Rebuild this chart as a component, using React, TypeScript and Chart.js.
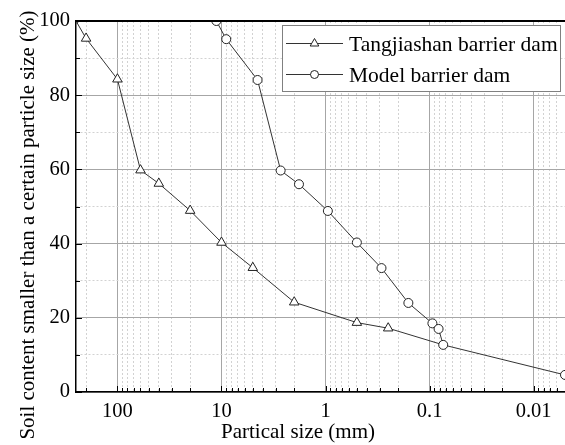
import React, { useEffect, useRef } from 'react';
import { Chart, registerables } from 'chart.js';

Chart.register(...registerables);

// ---- data ----
const seriesNames = ['Tangjiashan barrier dam', 'Model barrier dam'];
const tangSize = [250, 200, 100, 60, 40, 20, 10, 5, 2, 0.5, 0.25, 0.074];
const tangPct = [100, 95.3, 84.3, 59.8, 56.2, 48.9, 40.3, 33.5, 24.2, 18.7, 17.2, 12.7];
const modelSize = [11.2, 9, 4.5, 2.7, 1.8, 0.95, 0.5, 0.29, 0.16, 0.094, 0.082, 0.074, 0.005];
const modelPct = [100, 95.1, 84.1, 59.7, 56.0, 48.8, 40.3, 33.4, 24.0, 18.5, 17.0, 12.7, 4.6];
const xTickLabels = ['100', '10', '1', '0.1', '0.01'];
const yTickLabels = ['0', '20', '40', '60', '80', '100'];
const xTitle = 'Partical size (mm)';
const yTitle = 'Soil content smaller than a certain particle size (%)';
const xMin = 0.005;
const xMax = 250;

const FONT = '"Liberation Serif", "Times New Roman", serif';

const isDecade = (v: number) => Math.abs(Math.log10(v) - Math.round(Math.log10(v))) < 1e-6;
const xLabelFor = (v: number) =>
  xTickLabels.find((l) => Math.abs(Math.log10(Number(l)) - Math.log10(v)) < 1e-6) ?? '';
const yLabelFor = (v: number) => yTickLabels.find((l) => Number(l) === v) ?? '';

function drawTri(ctx: CanvasRenderingContext2D, x: number, y: number, r: number) {
  ctx.beginPath();
  ctx.moveTo(x, y - r);
  ctx.lineTo(x + 0.866 * r, y + 0.5 * r);
  ctx.lineTo(x - 0.866 * r, y + 0.5 * r);
  ctx.closePath();
  ctx.fill();
  ctx.stroke();
}

const decorPlugin = {
  id: 'decor',
  afterDraw(chart: any) {
    const { ctx, chartArea } = chart;
    const { left, right, top, bottom } = chartArea;
    const xs = chart.scales.x;
    const ys = chart.scales.y;
    ctx.save();
    // inward tick marks
    ctx.strokeStyle = '#000';
    ctx.lineWidth = 1;
    ctx.beginPath();
    xs.ticks.forEach((t: any) => {
      const px = Math.round(xs.getPixelForValue(t.value)) + 0.5;
      if (px < left || px > right) return;
      const len = isDecade(t.value) ? 6 : 4;
      ctx.moveTo(px, bottom);
      ctx.lineTo(px, bottom - len);
    });
    ys.ticks.forEach((t: any) => {
      const py = Math.round(ys.getPixelForValue(t.value)) + 0.5;
      const len = t.value % 20 === 0 ? 6 : 4;
      ctx.moveTo(left, py);
      ctx.lineTo(left + len, py);
    });
    ctx.stroke();
    // top frame line
    ctx.lineWidth = 2;
    ctx.beginPath();
    ctx.moveTo(left, top);
    ctx.lineTo(right, top);
    ctx.stroke();

    // legend
    const bx = 282.5, by = 25.5, bw = 278, bh = 66;
    ctx.fillStyle = '#fff';
    ctx.fillRect(bx, by, bw, bh);
    ctx.strokeStyle = '#808080';
    ctx.lineWidth = 1;
    ctx.strokeRect(bx, by, bw, bh);
    const rows = [43.5, 74.5];
    rows.forEach((ry, i) => {
      ctx.strokeStyle = '#333';
      ctx.lineWidth = 1;
      ctx.beginPath();
      ctx.moveTo(286, ry);
      ctx.lineTo(343, ry);
      ctx.stroke();
      ctx.fillStyle = '#fff';
      ctx.strokeStyle = '#222';
      if (i === 0) {
        drawTri(ctx, 314.5, ry, 5);
      } else {
        ctx.beginPath();
        ctx.arc(314.5, ry, 4, 0, Math.PI * 2);
        ctx.fill();
        ctx.stroke();
      }
      ctx.fillStyle = '#000';
      ctx.font = `21.5px ${FONT}`;
      ctx.textAlign = 'left';
      ctx.textBaseline = 'middle';
      ctx.fillText(seriesNames[i], 349, ry + 2);
    });

    // axis titles
    ctx.fillStyle = '#000';
    ctx.font = `21px ${FONT}`;
    ctx.textAlign = 'center';
    ctx.textBaseline = 'alphabetic';
    ctx.fillText(xTitle, 298, 438);
    ctx.translate(34, 225);
    ctx.rotate(-Math.PI / 2);
    ctx.fillText(yTitle, 0, 0);
    ctx.restore();
  },
};

export default function App() {
  const ref = useRef<HTMLCanvasElement>(null);
  useEffect(() => {
    if (!ref.current) return;
    const tickVals: number[] = [];
    for (let e = -3; e <= 3; e++) {
      for (let k = 1; k <= 9; k++) {
        const v = Number((k * Math.pow(10, e)).toPrecision(6));
        if (v >= xMin && v <= xMax) tickVals.push(v);
      }
    }
    const chart = new Chart(ref.current, {
      type: 'line',
      data: {
        datasets: [
          {
            label: seriesNames[1],
            data: modelSize.map((x, i) => ({ x, y: modelPct[i] })),
            borderColor: '#333',
            borderWidth: 1,
            pointStyle: 'circle',
            pointRadius: 4.5,
            pointBackgroundColor: '#fff',
            pointBorderColor: '#222',
            pointBorderWidth: 1,
            tension: 0,
            clip: 0,
          },
          {
            label: seriesNames[0],
            data: tangSize.map((x, i) => ({ x, y: tangPct[i] })),
            borderColor: '#333',
            borderWidth: 1,
            pointStyle: (c: any) => (c.dataIndex === 0 ? 'rect' : 'triangle'),
            pointRadius: (c: any) =>
              c.dataIndex === 0 ? 2.5 : c.dataIndex === tangSize.length - 1 ? 0 : 5.5,
            pointBackgroundColor: '#fff',
            pointBorderColor: '#222',
            pointBorderWidth: 1,
            tension: 0,
            clip: 0,
          },
        ],
      },
      options: {
        animation: false,
        responsive: false,
        events: [],
        layout: { autoPadding: false, padding: { top: 21, right: 0, left: 0, bottom: 0 } },
        plugins: { legend: { display: false }, tooltip: { enabled: false } },
        scales: {
          x: {
            type: 'logarithmic',
            reverse: true,
            min: xMin,
            max: xMax,
            afterBuildTicks: (s: any) => {
              s.ticks = tickVals.map((v) => ({ value: v }));
            },
            afterFit: (s: any) => {
              s.height = 53;
              s.paddingRight = 0;
              s.paddingLeft = 0;
            },
            ticks: {
              autoSkip: false,
              maxRotation: 0,
              padding: 7,
              color: '#000',
              font: { family: FONT, size: 20.5 },
              callback: (v: any) => xLabelFor(Number(v)),
            },
            grid: {
              drawTicks: false,
              lineWidth: 1,
              color: (c: any) => (c.tick && isDecade(c.tick.value) ? '#a6a6a6' : '#d2d2d2'),
            },
            border: {
              display: true,
              color: '#000',
              width: 1.5,
              dash: (c: any) => (c.type === 'tick' && c.tick && !isDecade(c.tick.value) ? [2, 2] : []),
            },
          },
          y: {
            type: 'linear',
            min: 0,
            max: 100,
            afterFit: (s: any) => {
              s.width = 76;
            },
            ticks: {
              stepSize: 10,
              padding: 6,
              color: '#000',
              font: { family: FONT, size: 20.5 },
              callback: (v: any) => yLabelFor(Number(v)),
            },
            grid: {
              drawTicks: false,
              lineWidth: 1,
              color: (c: any) => (c.tick && c.tick.value % 20 === 0 ? '#a6a6a6' : '#d2d2d2'),
            },
            border: {
              display: true,
              color: '#000',
              width: 1.5,
              dash: (c: any) => (c.type === 'tick' && c.tick && c.tick.value % 20 !== 0 ? [2, 2] : []),
            },
          },
        },
      },
      plugins: [decorPlugin],
    } as any);
    return () => chart.destroy();
  }, []);
  return (
    <div style={{ position: 'absolute', left: 0, top: 0, width: 565, height: 445, background: '#fff' }}>
      <canvas ref={ref} width={565} height={445} style={{ display: 'block' }} />
    </div>
  );
}
